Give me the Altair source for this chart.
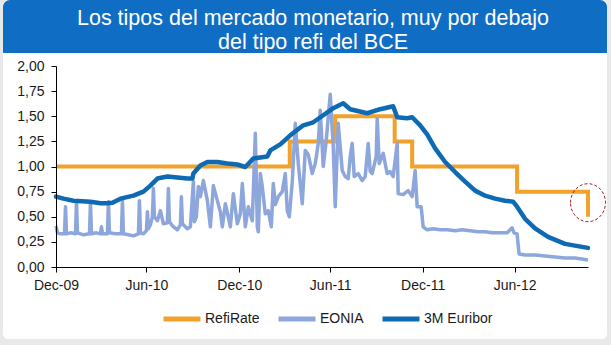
import altair as alt
import pandas as pd

# ---------------- data ----------------
series_names = ["RefiRate", "EONIA", "3M Euribor"]
series_colors = ["#F2A12B", "#8DA6DB", "#0F6AB4"]

refi_dates = ["2009-12-31", "2011-04-13", "2011-07-13", "2011-11-09", "2011-12-14",
              "2012-07-11", "2012-11-30", "2012-11-30"]
refi_values = [1.00, 1.25, 1.50, 1.25, 1.00, 0.75, 0.75, 0.50]

eonia_dates = [
    "2009-12-31", "2010-01-03", "2010-01-09", "2010-01-17", "2010-01-19", "2010-01-21", "2010-01-29",
    "2010-02-08", "2010-02-10", "2010-02-12", "2010-02-24", "2010-03-08", "2010-03-10", "2010-03-12",
    "2010-03-22", "2010-03-30", "2010-04-01", "2010-04-03", "2010-04-13", "2010-04-15", "2010-04-17",
    "2010-04-29", "2010-05-11", "2010-05-13", "2010-05-15", "2010-05-25", "2010-06-04", "2010-06-14",
    "2010-06-16", "2010-06-18", "2010-06-24", "2010-06-30", "2010-07-02", "2010-07-04", "2010-07-08",
    "2010-07-12", "2010-07-14", "2010-07-16", "2010-07-22", "2010-07-28", "2010-08-03", "2010-08-11",
    "2010-08-13", "2010-08-15", "2010-08-21", "2010-08-31", "2010-09-06", "2010-09-08", "2010-09-10",
    "2010-09-20", "2010-09-26", "2010-09-30", "2010-10-02", "2010-10-04", "2010-10-08", "2010-10-12",
    "2010-10-16", "2010-10-22", "2010-10-30", "2010-11-05", "2010-11-11", "2010-11-19", "2010-11-25",
    "2010-11-29", "2010-12-05", "2010-12-13", "2010-12-15", "2010-12-21", "2010-12-29",
    "2011-01-04", "2011-01-08", "2011-01-14", "2011-01-20", "2011-01-28", "2011-02-03", "2011-02-07",
    "2011-02-09", "2011-02-13", "2011-02-17", "2011-02-23", "2011-03-01", "2011-03-07", "2011-03-11",
    "2011-03-15", "2011-03-21", "2011-03-29", "2011-04-04", "2011-04-08", "2011-04-12", "2011-04-18",
    "2011-04-24", "2011-04-30", "2011-05-08", "2011-05-14", "2011-05-20", "2011-05-28", "2011-06-03",
    "2011-06-09", "2011-06-13", "2011-06-19", "2011-06-25", "2011-07-03", "2011-07-09", "2011-07-13",
    "2011-07-19", "2011-07-27", "2011-08-02", "2011-08-08", "2011-08-12", "2011-08-16", "2011-08-20",
    "2011-08-28", "2011-09-05", "2011-09-11", "2011-09-17", "2011-09-21", "2011-09-25", "2011-10-03",
    "2011-10-05", "2011-10-09", "2011-10-17", "2011-10-25", "2011-10-31", "2011-11-06", "2011-11-14",
    "2011-11-16", "2011-11-26", "2011-12-06", "2011-12-14", "2011-12-20", "2011-12-24",
    "2012-01-01", "2012-01-05", "2012-01-13", "2012-01-25", "2012-02-08", "2012-02-22", "2012-03-09",
    "2012-03-23", "2012-04-08", "2012-04-24", "2012-05-08", "2012-05-22", "2012-06-07", "2012-06-21",
    "2012-07-01", "2012-07-05", "2012-07-11", "2012-07-15", "2012-07-27", "2012-08-16", "2012-09-05",
    "2012-09-25", "2012-10-15", "2012-11-04", "2012-11-30",
]
eonia_values = [
    0.41, 0.34, 0.33, 0.33, 0.60, 0.33, 0.34, 0.33, 0.65, 0.34, 0.32, 0.33, 0.64, 0.33,
    0.34, 0.33, 0.40, 0.33, 0.33, 0.65, 0.34, 0.33, 0.33, 0.66, 0.33, 0.32, 0.31, 0.33,
    0.66, 0.34, 0.33, 0.36, 0.55, 0.38, 0.42, 0.50, 0.78, 0.50, 0.46, 0.56, 0.43, 0.44,
    0.78, 0.45, 0.41, 0.37, 0.42, 0.70, 0.43, 0.38, 0.40, 0.70, 0.85, 0.45, 0.50, 0.80,
    0.70, 0.86, 0.66, 0.40, 0.81, 0.66, 0.55, 0.40, 0.63, 0.45, 0.40, 0.73, 0.43,
    0.53, 0.83, 0.40, 0.60, 0.46, 1.33, 0.40, 0.35, 0.93, 0.80, 0.53, 0.56, 0.40, 0.83,
    0.62, 0.70, 0.75, 0.93, 0.56, 0.50, 0.85, 1.43, 1.03, 0.63, 1.16, 1.12, 0.93, 1.03,
    1.23, 1.56, 1.00, 1.26, 1.72, 1.20, 0.60, 1.43, 0.96, 0.90, 0.88, 1.10, 1.23, 0.90,
    0.93, 0.86, 0.90, 1.23, 0.95, 0.93, 1.10, 1.48, 1.03, 1.13, 0.93, 0.95, 0.90, 1.23,
    0.73, 0.72, 0.76, 0.70, 0.96, 0.60,
    0.60, 0.40, 0.37, 0.38, 0.37, 0.37, 0.36, 0.37, 0.36, 0.35, 0.35, 0.34, 0.34, 0.34,
    0.39, 0.34, 0.33, 0.13, 0.12, 0.12, 0.11, 0.10, 0.09, 0.09, 0.07,
]

euribor_dates = [
    "2009-12-31", "2010-01-15", "2010-02-04", "2010-03-10", "2010-03-30", "2010-04-11", "2010-04-23",
    "2010-05-09", "2010-06-04", "2010-06-24", "2010-07-08", "2010-07-22", "2010-08-11", "2010-08-31",
    "2010-09-20", "2010-09-30", "2010-10-02", "2010-10-16", "2010-10-30", "2010-11-19", "2010-12-09",
    "2010-12-29", "2011-01-14", "2011-01-30", "2011-02-13", "2011-02-27", "2011-03-05", "2011-03-25",
    "2011-04-14", "2011-05-10", "2011-05-30", "2011-06-19", "2011-07-09", "2011-07-29", "2011-08-12",
    "2011-09-15", "2011-10-11", "2011-11-06", "2011-11-14", "2011-12-04", "2011-12-14", "2011-12-30",
    "2012-01-13", "2012-01-29", "2012-02-18", "2012-03-09", "2012-03-29", "2012-04-18", "2012-05-08",
    "2012-05-28", "2012-06-17", "2012-07-03", "2012-07-11", "2012-07-27", "2012-08-16", "2012-09-11",
    "2012-10-15", "2012-11-18", "2012-11-30",
]
euribor_values = [
    0.70, 0.68, 0.66, 0.65, 0.635, 0.635, 0.64, 0.68, 0.71, 0.75, 0.81, 0.88, 0.90, 0.89,
    0.88, 0.88, 0.93, 1.01, 1.045, 1.045, 1.03, 1.02, 0.995, 1.08, 1.09, 1.10, 1.16, 1.22,
    1.31, 1.41, 1.44, 1.51, 1.58, 1.63, 1.57, 1.53, 1.57, 1.60, 1.49, 1.48, 1.49, 1.41,
    1.32, 1.18, 1.045, 0.945, 0.85, 0.76, 0.71, 0.68, 0.66, 0.65, 0.60, 0.48, 0.385, 0.30,
    0.23, 0.20, 0.19,
]

x_tick_dates = ["2009-12-31", "2010-06-30", "2011-01-02", "2011-07-03", "2012-01-04", "2012-07-06"]
x_tick_labels = ["Dec-09", "Jun-10", "Dec-10", "Jun-11", "Dec-11", "Jun-12"]
y_ticks = [0.0, 0.25, 0.5, 0.75, 1.0, 1.25, 1.5, 1.75, 2.0]
y_tick_labels = ["0,00", "0,25", "0,50", "0,75", "1,00", "1,25", "1,50", "1,75", "2,00"]

title_lines = ["Los tipos del mercado monetario, muy por debajo", "del tipo refi del BCE"]

circle_date = ["2012-11-30"]
circle_value = [0.64]

# ---------------- build table ----------------
rows = []
for name, ds, vs in [("RefiRate", refi_dates, refi_values),
                     ("EONIA", eonia_dates, eonia_values),
                     ("3M Euribor", euribor_dates, euribor_values)]:
    for d, v in zip(ds, vs):
        rows.append({"date": d, "value": v, "series": name, "idx": len(rows)})
df = pd.DataFrame(rows)


def ms(d):
    return int(pd.Timestamp(d).value // 10**6)


x_domain = [ms("2009-12-31"), ms("2012-11-30")]
tick_ms = [ms(d) for d in x_tick_dates]
x_label_expr = ""
for t, lab in zip(tick_ms, x_tick_labels):
    x_label_expr += f"abs(time(datum.value) - {t}) < 3600000 ? '{lab}' : "
x_label_expr += "''"

y_label_expr = ""
for v, lab in zip(y_ticks, y_tick_labels):
    y_label_expr += f"abs(datum.value - {v}) < 0.001 ? '{lab}' : "
y_label_expr += "''"

FONT = "Liberation Sans"

x_enc = alt.X(
    "date:T",
    scale=alt.Scale(type="utc", domain=x_domain),
    axis=alt.Axis(values=tick_ms, labelExpr=x_label_expr, title=None, grid=False,
                  tickSize=5, labelPadding=6, domainColor="#000000", tickColor="#000000",
                  labelFont=FONT, labelFontSize=14, labelColor="#1a1a1a", zindex=1,
                  labelOverlap=False, labelFlush=False),
)
y_enc = alt.Y(
    "value:Q",
    scale=alt.Scale(domain=[0, 2], nice=False),
    axis=alt.Axis(values=y_ticks, labelExpr=y_label_expr,
                  title=None, grid=False, tickSize=5, labelPadding=7, labelOverlap=False,
                  labelFlush=False, domainColor="#000000", tickColor="#000000",
                  labelFont=FONT, labelFontSize=14, labelColor="#1a1a1a", zindex=1),
)
color_enc = alt.Color(
    "series:N",
    scale=alt.Scale(domain=series_names, range=series_colors),
    legend=alt.Legend(orient="none", legendX=105, legendY=232, direction="horizontal",
                      title=None, symbolType="stroke", symbolSize=1369, symbolStrokeWidth=5,
                      labelFont=FONT, labelFontSize=14, labelColor="#1a1a1a",
                      columnPadding=8, labelOffset=2, padding=0, zindex=1),
)

base = alt.Chart(df)
one = pd.DataFrame({"k": [0]})

frame = alt.Chart(one).mark_rect(color="white", cornerRadius=5).encode(
    x=alt.value(-53), x2=alt.value(551), y=alt.value(-66), y2=alt.value(273))
banner = alt.Chart(one).mark_rect(color="#0F6EC4", cornerRadiusTopLeft=7,
                                  cornerRadiusTopRight=7).encode(
    x=alt.value(-53), x2=alt.value(551), y=alt.value(-66), y2=alt.value(-13))
t1 = alt.Chart(one).mark_text(font=FONT, fontSize=21.5, color="white", align="center",
                              baseline="alphabetic").encode(
    x=alt.value(257), y=alt.value(-41), text=alt.value(title_lines[0]))
t2 = alt.Chart(one).mark_text(font=FONT, fontSize=21.5, color="white", align="center",
                              baseline="alphabetic").encode(
    x=alt.value(257), y=alt.value(-17), text=alt.value(title_lines[1]))

refi = base.transform_filter(alt.datum.series == "RefiRate").mark_line(
    interpolate="step-after", strokeWidth=4).encode(
    x=x_enc, y=y_enc, color=color_enc, order="idx:Q")
eonia = base.transform_filter(alt.datum.series == "EONIA").mark_line(
    strokeWidth=3.5, strokeJoin="round").encode(
    x=x_enc, y=y_enc, color=color_enc, order="idx:Q")
euribor = base.transform_filter(alt.datum.series == "3M Euribor").mark_line(
    strokeWidth=4.5, strokeJoin="round", strokeCap="round").encode(
    x=x_enc, y=y_enc, color=color_enc, order="idx:Q")

circ_df = pd.DataFrame({"date": circle_date, "value": circle_value})
ellipse = "M -0.92 0 A 0.92 1 0 1 1 0.92 0 A 0.92 1 0 1 1 -0.92 0 Z"
circle = alt.Chart(circ_df).mark_point(shape=ellipse, size=1444, filled=False,
                                       stroke="#A0202A", strokeWidth=1, strokeDash=[3, 2],
                                       opacity=1).encode(x=x_enc, y=y_enc)

chart = alt.layer(frame, banner, t1, t2, refi, eonia, euribor, circle).properties(
    width=532, height=201,
    autosize=alt.AutoSizeParams(type="none"),
    padding={"left": 56, "top": 66, "right": 23, "bottom": 78},
    background="#E9E9E9",
).configure_view(stroke=None).configure_axis(labelOverlap=False)

chart.save("out.html", embed_options={"renderer": "svg", "actions": False})
